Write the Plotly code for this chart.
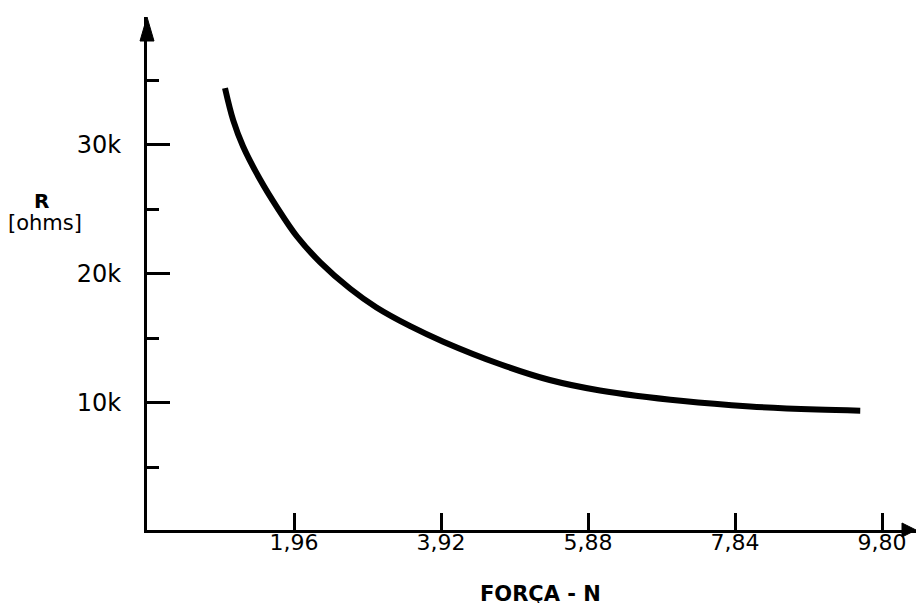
import plotly.graph_objects as go

# Data
force_n = [1.04, 1.15, 1.28, 1.51, 1.73, 2.00, 2.31, 2.71, 3.06, 3.51, 3.95, 4.71, 5.37, 6.04, 7.15, 8.04, 8.93, 9.51]
resistance_ohms = [34400, 31900, 29900, 27300, 25200, 22900, 20900, 18850, 17400, 15950, 14750, 13000, 11780, 10970, 10150, 9730, 9490, 9400]

x_tickvals = [1.96, 3.92, 5.88, 7.84, 9.80]
x_ticktext = ["1,96", "3,92", "5,88", "7,84", "9,80"]
y_tickvals = [10000, 20000, 30000]
y_ticktext = ["10k", "20k", "30k"]

W, H = 916, 603
L, R, T, B = 147, 0, 17, 73
pw, ph = W - L - R, H - T - B

def px_x(px):
    return (px - L) / pw

def px_y(py):
    return (H - B - py) / ph

fig = go.Figure()
fig.add_trace(go.Scatter(
    x=force_n, y=resistance_ohms, mode="lines",
    line=dict(color="black", width=6, shape="spline", smoothing=1.0),
    hoverinfo="skip", showlegend=False,
))

font = "DejaVu Sans, Verdana, sans-serif"

fig.update_layout(
    width=W, height=H,
    margin=dict(l=L, r=R, t=T, b=B, pad=0),
    paper_bgcolor="white", plot_bgcolor="white",
    showlegend=False,
    xaxis=dict(
        range=[0, pw / 75.0],
        showgrid=False, zeroline=False,
        showline=True, linecolor="black", linewidth=3,
        ticks="inside", ticklen=17, tickwidth=2.5, tickcolor="black",
        tickmode="array", tickvals=x_tickvals, ticktext=x_ticktext,
        tickfont=dict(family=font, size=22, color="black"),
        ticklabelstandoff=-9,
    ),
    yaxis=dict(
        range=[155, 155 + ph * 77.5],
        showgrid=False, zeroline=False,
        showline=True, linecolor="black", linewidth=3,
        ticks="inside", ticklen=23, tickwidth=3, tickcolor="black",
        tickmode="array", tickvals=y_tickvals, ticktext=y_ticktext,
        tickfont=dict(family=font, size=24, color="black"),
        ticklabelstandoff=18,
        minor=dict(tickmode="linear", tick0=0, dtick=5000, ticks="inside",
                   ticklen=12, tickwidth=3, tickcolor="black", showgrid=False),
    ),
)

# Arrow heads at axis ends
fig.add_shape(type="path", xref="paper", yref="paper",
              path=f"M {px_x(140)},{px_y(41)} L {px_x(147)},{px_y(17)} L {px_x(154)},{px_y(41)} Z",
              fillcolor="black", line=dict(color="black", width=1))
fig.add_shape(type="path", xref="paper", yref="paper",
              path=f"M {px_x(902)},{px_y(523)} L {px_x(916)},{px_y(530)} L {px_x(902)},{px_y(537)} Z",
              fillcolor="black", line=dict(color="black", width=1))

fig.add_annotation(text="<b>R</b>", xref="paper", yref="paper",
                   x=px_x(42), y=px_y(201), showarrow=False,
                   xanchor="center", yanchor="middle",
                   font=dict(family=font, size=20, color="black"))
fig.add_annotation(text="[ohms]", xref="paper", yref="paper",
                   x=px_x(45), y=px_y(223), showarrow=False,
                   xanchor="center", yanchor="middle",
                   font=dict(family=font, size=21, color="black"))
fig.add_annotation(text="<b>FORÇA - N</b>", xref="paper", yref="paper",
                   x=px_x(540), y=px_y(594), showarrow=False,
                   xanchor="center", yanchor="middle",
                   font=dict(family=font, size=21, color="black"))

fig.write_html("out.html", config={"displayModeBar": False},
               post_script="document.body.style.margin='0';")
